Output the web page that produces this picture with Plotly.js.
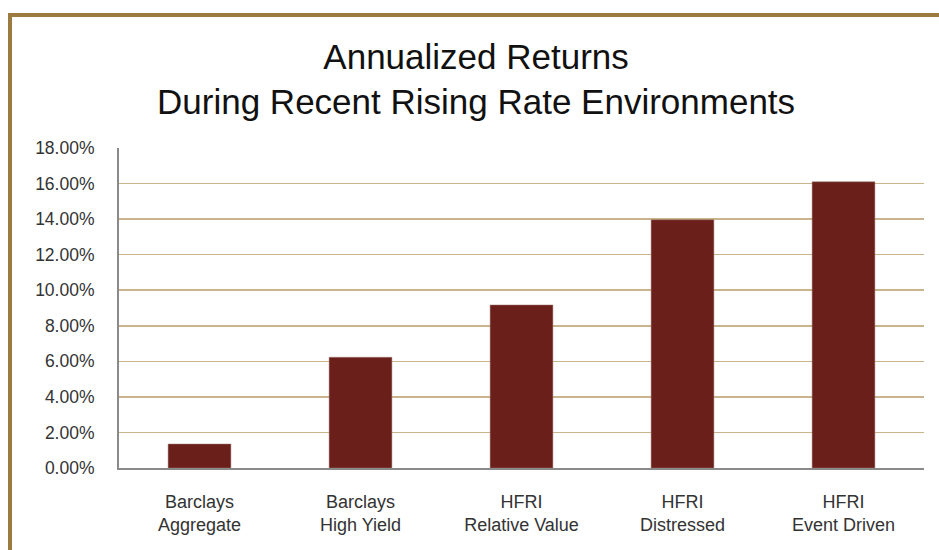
<!DOCTYPE html>
<html>
<head>
<meta charset="utf-8">
<script src="https://cdn.plot.ly/plotly-3.0.1.min.js"></script>
<style>
  html, body { margin: 0; padding: 0; background: #fff; }
  #wrap { position: relative; width: 939px; height: 550px; overflow: hidden; }
  #chart { position: absolute; left: 0; top: 0; width: 939px; height: 550px; }
  #frame { position: absolute; left: 8px; top: 13px; width: 1000px; height: 600px;
           border-left: 4px solid #9b7b3f; border-top: 4px solid #9b7b3f; pointer-events: none; }
</style>
</head>
<body>
<div id="wrap">
  <div id="chart"></div>
  <div id="frame"></div>
</div>
<script>
const categories = ["Barclays<br>Aggregate", "Barclays<br>High Yield", "HFRI<br>Relative Value", "HFRI<br>Distressed", "HFRI<br>Event Driven"];
const returns = [0.0135, 0.0623, 0.0917, 0.1396, 0.161];
const yTicks = [0, 0.02, 0.04, 0.06, 0.08, 0.10, 0.12, 0.14, 0.16, 0.18];

const font = "Liberation Sans, Arial, sans-serif";

Plotly.newPlot("chart", [{
  type: "bar",
  x: categories,
  y: returns,
  width: 0.39,
  marker: { color: "#6a1f1b", line: { color: "#a07870", width: 0.5 } },
  hoverinfo: "skip"
}], {
  width: 939, height: 550,
  margin: { l: 119, r: 15, t: 148, b: 82 },
  paper_bgcolor: "rgba(0,0,0,0)",
  plot_bgcolor: "#fff",
  showlegend: false,
  title: {
    text: "Annualized Returns<br>During Recent Rising Rate Environments",
    font: { family: font, size: 35, color: "#111" },
    x: 0.507, xanchor: "center", y: 0.875, yanchor: "middle"
  },
  xaxis: {
    type: "category",
    showline: true, linecolor: "#8a8a8a", linewidth: 2,
    showgrid: false,
    ticks: "outside", ticklen: 16, tickcolor: "rgba(0,0,0,0)",
    tickfont: { family: font, size: 18, color: "#333" }
  },
  yaxis: {
    range: [0, 0.18],
    tickvals: yTicks,
    tickformat: ".2%",
    showline: true, linecolor: "#8a8a8a", linewidth: 2,
    showgrid: true, gridcolor: "#c9b48e", gridwidth: 1.5,
    zeroline: false,
    ticks: "", ticklabelstandoff: 19,
    tickfont: { family: font, size: 17.5, color: "#333" }
  }
}, { staticPlot: true, displayModeBar: false });
</script>
</body>
</html>
